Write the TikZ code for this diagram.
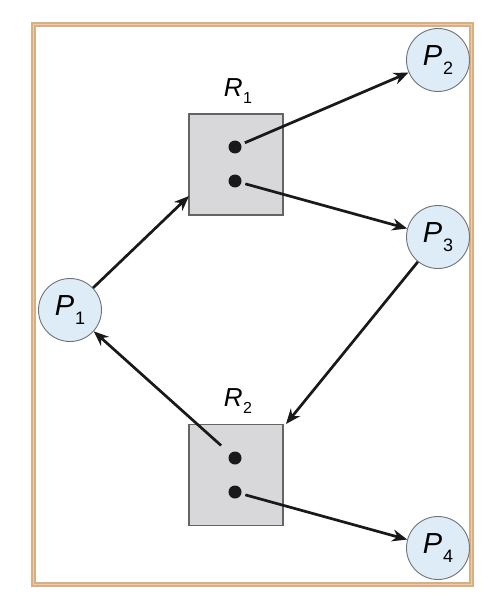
\documentclass[tikz,border=0pt]{standalone}
\usepackage{fontspec}
\setmainfont{Liberation Sans}
\usetikzlibrary{arrows.meta}
\definecolor{frametan}{RGB}{216,174,130}
\definecolor{framelight}{RGB}{234,206,172}
\definecolor{procfill}{RGB}{222,236,248}
\definecolor{procline}{RGB}{110,115,120}
\definecolor{resfill}{RGB}{216,216,218}
\definecolor{resline}{RGB}{100,100,100}
\tikzset{
  proc/.style={circle,draw=procline,line width=0.9pt,fill=procfill,minimum size=63pt,inner sep=0pt,font=\fontsize{29}{30}\selectfont\itshape},
  res/.style={rectangle,draw=resline,line width=1.2pt,fill=resfill,minimum width=94pt,minimum height=101pt,inner sep=0pt},
  inst/.style={circle,fill=black!90,minimum size=13pt,inner sep=0pt},
  rlabel/.style={font=\fontsize{26}{28}\selectfont\itshape},
  edge/.style={line width=2.7pt,black!90,-{Stealth[length=15pt,width=12pt]}}
}
\newcommand{\psub}[1]{\kern1pt\raisebox{-9pt}{\upshape\fontsize{18}{20}\selectfont #1}}
\newcommand{\rsub}[1]{\kern0.5pt\raisebox{-7pt}{\upshape\fontsize{16}{18}\selectfont #1}}
\begin{document}
\begin{tikzpicture}[x=1pt,y=-1pt]
\useasboundingbox (0,0) rectangle (492,596);
\fill[white] (0,0) rectangle (492,596);
\draw[frametan,line width=5pt] (33.5,24.5) rectangle (471,584);
\draw[framelight,line width=1pt] (33.5,24.5) rectangle (471,584);
\node[res] (r1) at (236,164.5) {};
\node[res] (r2) at (236,475) {};
\node[inst] (r1a) at (235,147) {};
\node[inst] (r1b) at (235,181) {};
\node[inst] (r2a) at (235,458) {};
\node[inst] (r2b) at (235,492) {};
\node[rlabel] (r1l) at (238,91) {R\rsub{1}};
\node[rlabel] (r2l) at (238,401) {R\rsub{2}};
\node[proc] (p1) at (70,310) {P\psub{1}};
\node[proc] (p2) at (438,60) {P\psub{2}};
\node[proc] (p3) at (438,237) {P\psub{3}};
\node[proc] (p4) at (438,548) {P\psub{4}};
\coordinate (r1in) at (189,196);
\coordinate (r2in) at (286,424);
\draw[edge] (p1) -- (r1in);
\draw[edge,shorten <=4pt] (r1a) -- (p2);
\draw[edge,shorten <=4pt] (r1b) -- (p3);
\draw[edge] (p3) -- (r2in);
\draw[edge,shorten <=12pt] (r2a) -- (p1);
\draw[edge,shorten <=4pt] (r2b) -- (p4);
\end{tikzpicture}
\end{document}
